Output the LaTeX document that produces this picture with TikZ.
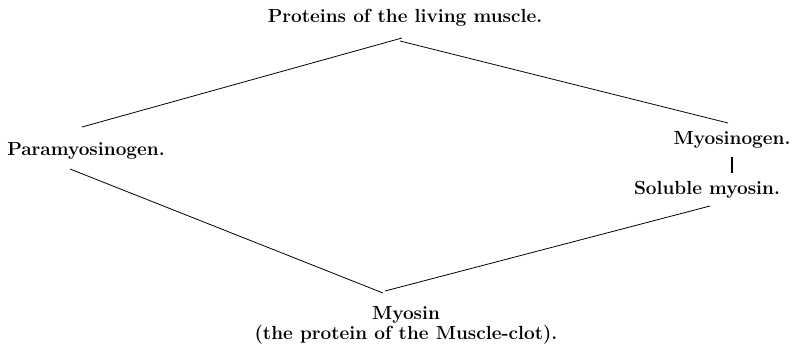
\documentclass[tikz,border=0pt]{standalone}
\usepackage{tikz}
\usetikzlibrary{calc}

\begin{document}
\begin{tikzpicture}[
  x=1pt, y=-1pt,
  txt/.style={inner sep=0pt, anchor=base, font=\fontsize{19}{22}\selectfont\bfseries},
  link/.style={line width=0.8pt},
  bar/.style={line width=1.6pt},
]
\useasboundingbox (0,0) rectangle (795,349);

% the names
\node[txt] (proteins) at (405,22) {Proteins of the living muscle.};
\node[txt] (para) at (86,155) {Paramyosinogen.};
\node[txt] (myogen) at (732,144) {Myosinogen.};
\node[txt] (solmyo) at (707,194) {Soluble myosin.};
\node[txt, anchor=north, align=center, font=\fontsize{19}{17}\selectfont\bfseries]
  (myosin) at (406,306) {Myosin\\[1pt](the protein of the Muscle-clot).};

% free ends of the lines
\coordinate (apexL) at (402,38);
\coordinate (apexR) at (400,41);
\coordinate (paraT) at (82,127);
\coordinate (paraB) at (70,169);
\coordinate (myogenT) at (728,123);
\coordinate (solmyoB) at (710,206);
\coordinate (baseL) at (383,293);
\coordinate (baseR) at (385,291);

\draw[link] (paraT) -- (apexL);
\draw[link] (apexR) -- (myogenT);
\draw[link] (paraB) -- (baseL);
\draw[link] (baseR) -- (solmyoB);
\draw[bar, shorten <=9pt, shorten >=8pt] (myogen.south) -- (myogen.south |- solmyo.north);
\end{tikzpicture}
\end{document}
